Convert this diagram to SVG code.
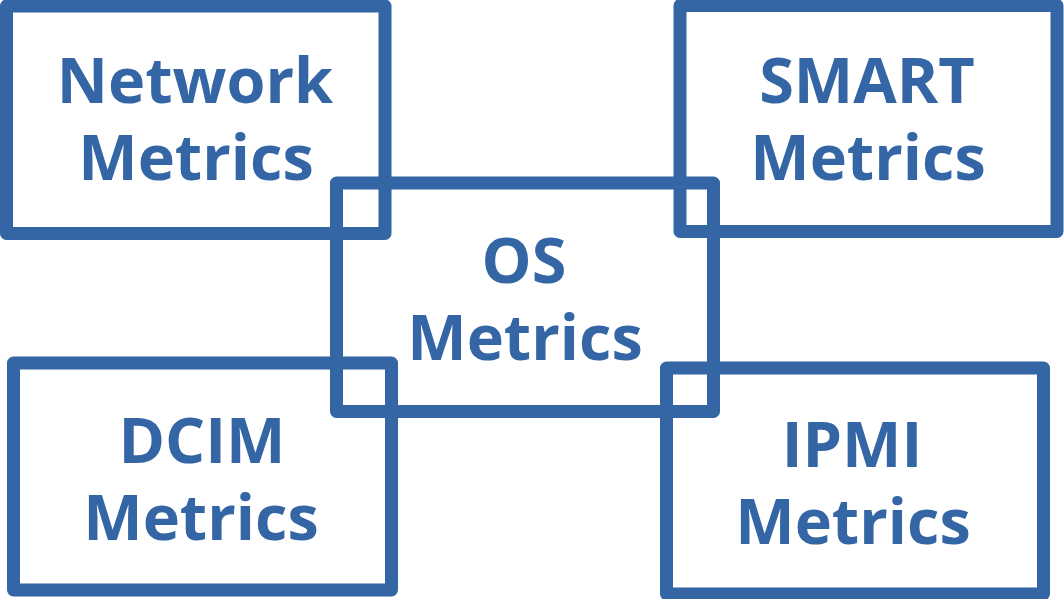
<svg xmlns="http://www.w3.org/2000/svg" width="1064" height="599" viewBox="0 0 1064 599">
  <style>
    .box { fill: none; stroke: #3465a4; stroke-width: 13; stroke-linejoin: round; }
    .label { font-family: "Open Sans", "Noto Sans", "Liberation Sans", sans-serif; font-weight: 700; font-size: 63px; fill: #3465a4; text-anchor: middle; }
  </style>
  <rect x="0" y="0" width="1064" height="599" fill="#ffffff"/>

  <g id="network-metrics">
    <rect class="box" x="6.5" y="6" width="378.5" height="227.5"/>
    <text class="label" x="195" y="103">Network</text>
    <text class="label" x="196" y="180">Metrics</text>
  </g>

  <g id="smart-metrics">
    <rect class="box" x="680" y="5.5" width="377" height="226"/>
    <text class="label" x="867" y="103">SMART</text>
    <text class="label" x="868" y="180">Metrics</text>
  </g>

  <g id="dcim-metrics">
    <rect class="box" x="13.5" y="363" width="378" height="227"/>
    <text class="label" x="202" y="463">DCIM</text>
    <text class="label" x="201" y="540">Metrics</text>
  </g>

  <g id="ipmi-metrics">
    <rect class="box" x="666.5" y="368" width="377" height="226"/>
    <text class="label" x="852" y="467">IPMI</text>
    <text class="label" x="853" y="544">Metrics</text>
  </g>

  <g id="os-metrics">
    <rect class="box" x="336.5" y="183" width="377" height="228.5"/>
    <text class="label" x="524" y="283">OS</text>
    <text class="label" x="525" y="360">Metrics</text>
  </g>
</svg>
